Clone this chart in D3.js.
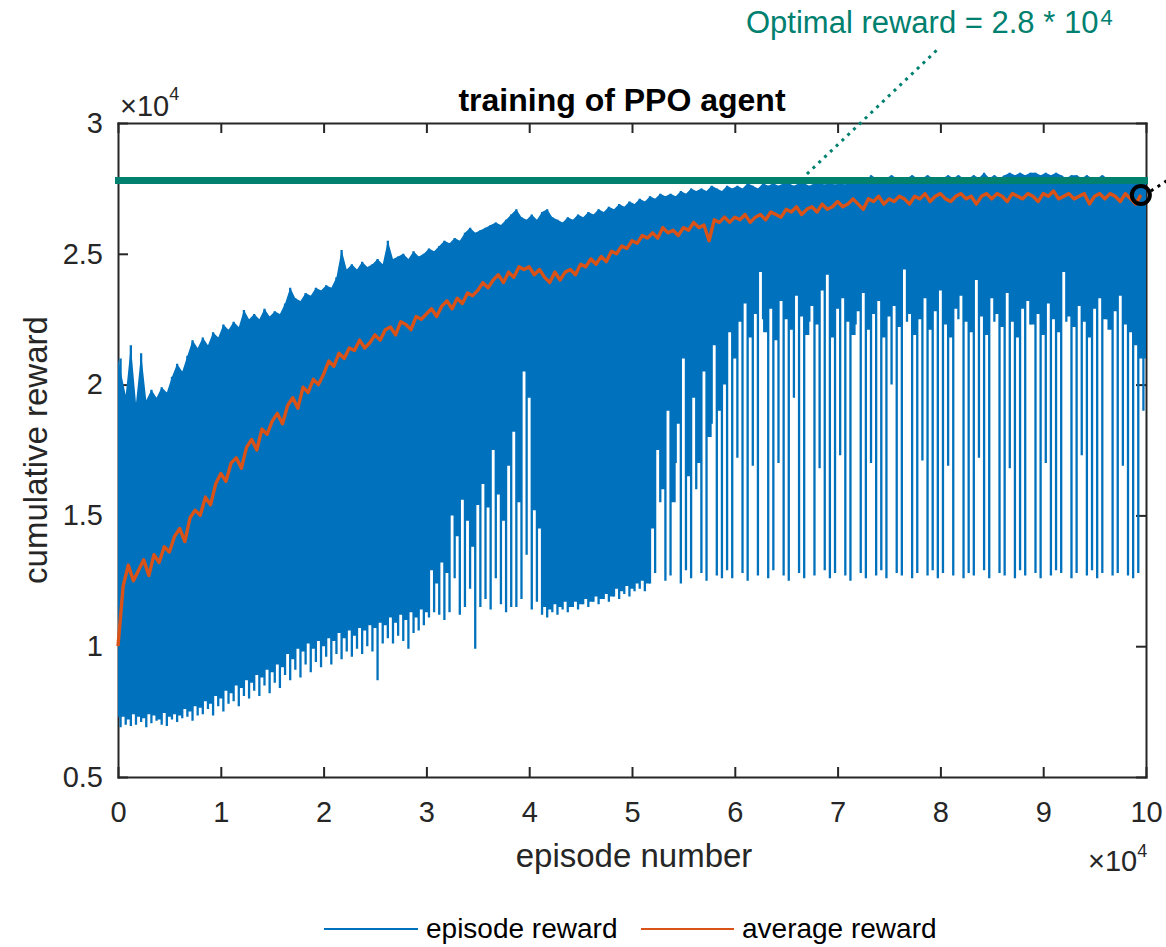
<!DOCTYPE html>
<html>
<head>
<meta charset="utf-8">
<script src="https://cdn.jsdelivr.net/npm/d3@7"></script>
<style>
  html, body { margin: 0; padding: 0; background: #fff; }
  svg { display: block; font-family: "Liberation Sans", Arial, Helvetica, sans-serif; }
</style>
</head>
<body>
<svg id="chart" width="1166" height="947"></svg>
<script>
// ---- data -------------------------------------------------------------
// Episode rewards summarised per bin of 500 episodes.
const binSize = 500;
// highest episode reward in each bin
const episodeMax = [
  21000,19600,21500,19300,21200,19400,19800,19500,19900,19700,
  20300,20800,20500,21100,21700,21400,21800,21500,22000,21800,
  22300,22100,22400,22200,22850,22500,22700,22500,22900,22600,
  22800,22700,23100,23700,23300,23200,23500,23400,23700,23600,
  23800,23700,24100,25150,24400,24600,24400,24700,24500,24600,
  24800,24600,25500,24800,24900,25000,24800,25100,24900,25000,
  25200,25100,25300,25500,25400,25600,25500,25800,26000,25800,
  25900,26000,26100,26200,26100,26300,26500,26700,26400,26300,
  26500,26300,26600,26700,26400,26300,26200,26400,26300,26500,
  26400,26600,26500,26700,26600,26800,26700,26900,26800,27000,
  26900,27100,27000,27200,27100,27300,27200,27300,27200,27400,
  27300,27500,27400,27500,27400,27600,27500,27400,27600,27500,
  27600,27500,27700,27600,27500,27700,27600,27700,27600,27700,
  27700,27600,27700,27700,27600,27700,27700,27650,27700,27650,
  27700,27650,27900,27800,27900,27800,28000,27900,27800,27900,
  28000,27900,27800,27900,28000,27900,27900,28000,27900,27800,
  27900,28000,27900,28000,27900,27900,28000,27900,28100,27900,
  28000,27900,28000,28100,28000,28100,28000,28100,28100,28000,
  28100,28000,28100,28000,27900,28000,28000,27900,28000,27900,
  27900,28000,27900,27900,27800,27900,27900,27800,27900,27800
];
// lowest episode reward in each bin
const episodeMin = [
  6900,7000,6950,7000,7100,6900,7050,7150,7000,6950,
  7200,7100,7250,7300,7150,7350,7400,7600,7350,7700,
  7500,7800,7900,7700,8100,8000,8300,8100,8500,8200,
  8600,8400,8900,8700,9100,8800,9300,9000,9400,9200,
  9600,9300,9700,9500,9800,9600,9900,9700,10000,9800,
  8700,10100,10300,10100,10400,10200,9900,10500,10600,10800,
  11100,11300,11200,11000,11300,12600,11200,11500,12200,9900,
  11500,11800,11400,12600,11600,11300,11500,11500,11800,13500,
  11400,11700,11200,11100,11300,11200,11400,11300,11500,11400,
  11600,11500,11700,11600,11800,11700,11900,11800,12000,11900,
  12100,12200,12100,12400,12800,15500,12500,12700,17000,12400,
  12900,12600,16000,12800,12500,18500,12700,12600,12900,12600,
  17200,12800,12500,16900,12700,22500,12600,12900,17000,12700,
  12500,19500,12800,12600,22400,12700,16800,12900,12600,12800,
  17300,12700,12500,22300,12800,12600,17000,12700,12900,12600,
  20000,12800,12700,22400,12600,12800,17100,12700,12900,12600,
  12800,16900,12700,22500,12600,12800,12700,17200,12900,12600,
  22400,12800,12700,16800,12600,12900,12700,22300,12800,12600,
  17000,12700,12900,12800,22400,12600,12800,17300,12700,12900,
  12600,12800,22500,12700,12800,16900,12700,12600,12800,19000
];
// lower edge of the dense part of each bin (below it only isolated low episodes remain)
const episodeFloor = [
  7300,7200,7400,7300,7250,7400,7350,7200,7450,7300,
  7400,7350,7600,7500,7700,7650,7900,7800,8100,8000,
  8300,8200,8500,8400,8700,8600,8900,8800,9100,9000,
  9300,9200,9700,9500,9900,9800,10100,9900,10200,10000,
  10300,10200,10500,10300,10600,10400,10700,10600,10800,10700,
  10900,10800,11100,10900,11200,11000,11300,11100,11400,11300,
  12900,12400,13200,12800,15000,14200,15600,14800,13800,15400,
  16200,15300,17500,15800,14800,16900,18200,15500,20500,19500,
  15200,14500,11500,11400,11600,11500,11700,11500,11700,11600,
  11800,11700,11900,11800,12000,11900,12200,12100,12300,12200,
  12400,12500,12400,14500,17500,16000,19000,15500,18500,21000,
  16500,19500,17000,20500,18000,21500,19000,20000,22000,21000,
  22400,23100,21800,22700,24300,22000,22900,21700,23200,22500,
  22100,23400,22600,21900,23000,22300,23600,24200,21800,22900,
  23300,22400,21900,22800,23500,22100,22700,23200,21800,22600,
  23000,22200,24400,22700,21900,22500,23300,22100,22800,23600,
  22300,21800,22900,23400,22400,22000,24000,22600,21900,23300,
  22700,22200,23500,22400,21800,22900,23200,22300,22700,21900,
  23100,22500,22000,24300,22600,22200,23000,22400,21800,22900,
  23300,22500,22100,22800,23400,22300,22000,21500,21000,20500
];
// running average reward, every 500 episodes starting at episode 0
const averageReward = [
  10000,12300,13100,12500,12900,13300,12700,13500,13200,13800,
  13600,14200,14500,14000,14900,15200,15000,15700,15400,16200,
  16600,16300,17000,17200,16800,17600,17900,17500,18300,18100,
  18600,18900,18500,19200,19500,19100,19900,19700,20200,20000,
  20400,20900,20700,21200,21000,21400,21300,21700,21400,21600,
  21900,21700,22100,22200,21900,22400,22300,22100,22600,22500,
  22700,22900,22600,23000,23200,22900,23300,23100,23500,23400,
  23600,23900,23700,24000,24200,23900,24300,24100,24500,24400,
  24500,24200,24400,24100,23900,24300,24000,24300,24400,24200,
  24600,24500,24800,24600,24900,24700,25100,25000,25300,25200,
  25500,25400,25700,25600,25800,25600,26000,25800,25900,25700,
  26000,25900,26200,26000,26100,25500,26300,26200,26400,26200,
  26400,26300,26500,26200,26400,26500,26300,26600,26500,26400,
  26700,26600,26800,26500,26700,26800,26600,26900,26700,26800,
  27000,26800,26900,27100,26900,26700,27100,27000,27200,26900,
  27100,27000,27200,27100,26900,27200,27100,27300,27000,27200,
  27300,27100,27000,27200,27300,27100,27200,26900,27200,27300,
  27100,27300,27200,27000,27300,27200,27100,27300,27200,27000,
  27300,27200,27400,27100,27200,27300,27100,27200,27300,26900,
  27200,27300,27100,27300,27200,27000,27300,27100,26900,27250
];
const optimalReward = 27800;
const xTicks = [0,10000,20000,30000,40000,50000,60000,70000,80000,90000,100000];
const yTicks = [5000,10000,15000,20000,25000,30000];
const seriesNames = ["episode reward", "average reward"];

// ---- styling ----------------------------------------------------------
const FONT = '"Liberation Sans", Arial, Helvetica, sans-serif';
const axisColor = "#262626";
const blue = "#0072BD";
const orange = "#D95319";
const teal = "#00806F";

const svg = d3.select("#chart");
const x = d3.scaleLinear().domain([0, 100000]).range([118, 1146]);
const y = d3.scaleLinear().domain([5000, 30000]).range([777, 123]);
const tickFmt = d => String(d / 1e4);

// ---- axes box with inward ticks ---------------------------------------
const axes = [
  svg.append("g").attr("transform", "translate(0,777)")
    .call(d3.axisBottom(x).tickValues(xTicks).tickSizeInner(-10).tickSizeOuter(0).tickPadding(24).tickFormat(tickFmt)),
  svg.append("g").attr("transform", "translate(0,123)")
    .call(d3.axisTop(x).tickValues(xTicks).tickSizeInner(-10).tickSizeOuter(0).tickFormat("")),
  svg.append("g").attr("transform", "translate(118,0)")
    .call(d3.axisLeft(y).tickValues(yTicks).tickSizeInner(-10).tickSizeOuter(0).tickPadding(15).tickFormat(tickFmt)),
  svg.append("g").attr("transform", "translate(1146,0)")
    .call(d3.axisRight(y).tickValues(yTicks).tickSizeInner(-10).tickSizeOuter(0).tickFormat(""))
];
axes.forEach(g => {
  g.attr("font-family", FONT).attr("font-size", 29);
  g.select(".domain").attr("stroke", axisColor).attr("stroke-width", 2).attr("stroke-linecap", "square");
  g.selectAll(".tick line").attr("stroke", axisColor).attr("stroke-width", 2);
  g.selectAll(".tick text").attr("fill", axisColor);
});

// ---- episode reward: dense band plus per-bin extremes ------------------
const nBins = episodeMax.length;
const binX = i => x(i === 0 ? 0 : i === nBins - 1 ? nBins * binSize : i * binSize + binSize / 2);
// jagged upper edge, stepped lower edge (each gap between two low episodes keeps its own level)
const upperEdge = d3.line()(episodeMax.map((v, i) => [binX(i), y(v)]));
const lowerEdge = d3.line().curve(d3.curveStepBefore)(
  episodeFloor.map((v, i) => [binX(i), y(v)]).reverse());
svg.append("path")
  .attr("d", upperEdge + "L" + lowerEdge.slice(1) + "Z")
  .attr("fill", blue);
svg.append("path")
  .attr("d", episodeMin.map((v, i) => `M${x(i * binSize + binSize / 2)},${y(v)}V${y(episodeMax[i])}`).join(""))
  .attr("stroke", blue).attr("stroke-width", 2.3).attr("fill", "none");

// ---- average reward ----------------------------------------------------
svg.append("path")
  .datum(averageReward)
  .attr("d", d3.line().x((d, i) => x(i * binSize)).y(d => y(d)))
  .attr("fill", "none").attr("stroke", orange).attr("stroke-width", 3.4).attr("stroke-linejoin", "round");

// ---- optimal reward line and annotation --------------------------------
svg.append("line")
  .attr("x1", x(0) - 3).attr("x2", x(100000) + 2)
  .attr("y1", y(optimalReward)).attr("y2", y(optimalReward))
  .attr("stroke", teal).attr("stroke-width", 7);

svg.append("line")
  .attr("x1", 807).attr("y1", 174).attr("x2", 937).attr("y2", 50)
  .attr("stroke", teal).attr("stroke-width", 3).attr("stroke-dasharray", "3,5");

const note = svg.append("text")
  .attr("x", 746).attr("y", 33)
  .attr("font-family", FONT).attr("font-size", 31).attr("fill", teal);
note.append("tspan").text(`Optimal reward = ${(optimalReward / 1e4).toFixed(1)} * 10`);
note.append("tspan").attr("font-size", 22).attr("dx", 2).attr("dy", -8).text("4");

// ---- final average marker ----------------------------------------------
const lastI = averageReward.length - 1;
const cx = x(lastI * binSize), cy = y(averageReward[lastI]);
svg.append("line")
  .attr("x1", cx + 10).attr("y1", cy - 4).attr("x2", cx + 32).attr("y2", cy - 18)
  .attr("stroke", "#000").attr("stroke-width", 3).attr("stroke-dasharray", "3,5");
svg.append("circle")
  .attr("cx", cx).attr("cy", cy).attr("r", 9)
  .attr("fill", "none").attr("stroke", "#000").attr("stroke-width", 4);

// ---- exponent markers ---------------------------------------------------
function exponent(xPos, yPos, supDy) {
  const t = svg.append("text").attr("x", xPos).attr("y", yPos)
    .attr("font-family", FONT).attr("font-size", 29).attr("fill", axisColor);
  t.append("tspan").text("\u00D710");
  t.append("tspan").attr("font-size", 18).attr("dy", supDy).text("4");
}
exponent(120, 116, -16);
exponent(1088, 871, -14);

// ---- title and axis labels ---------------------------------------------
svg.append("text")
  .attr("x", 622).attr("y", 111).attr("text-anchor", "middle")
  .attr("font-family", FONT).attr("font-size", 32).attr("font-weight", "bold").attr("fill", "#000")
  .text("training of PPO agent");

svg.append("text")
  .attr("x", 634).attr("y", 867).attr("text-anchor", "middle")
  .attr("font-family", FONT).attr("font-size", 33).attr("fill", axisColor)
  .text("episode number");

svg.append("text")
  .attr("transform", "translate(47,450) rotate(-90)").attr("text-anchor", "middle")
  .attr("font-family", FONT).attr("font-size", 33).attr("fill", axisColor)
  .text("cumulative reward");

// ---- legend -------------------------------------------------------------
const legendItems = [
  { name: seriesNames[0], color: blue, x1: 324, x2: 418, tx: 426 },
  { name: seriesNames[1], color: orange, x1: 641, x2: 734, tx: 742 }
];
const legend = svg.append("g");
legendItems.forEach(d => {
  legend.append("line").attr("x1", d.x1).attr("x2", d.x2).attr("y1", 929).attr("y2", 929)
    .attr("stroke", d.color).attr("stroke-width", 2);
  legend.append("text").attr("x", d.tx).attr("y", 938)
    .attr("font-family", FONT).attr("font-size", 28).attr("fill", "#000").text(d.name);
});
</script>
</body>
</html>
